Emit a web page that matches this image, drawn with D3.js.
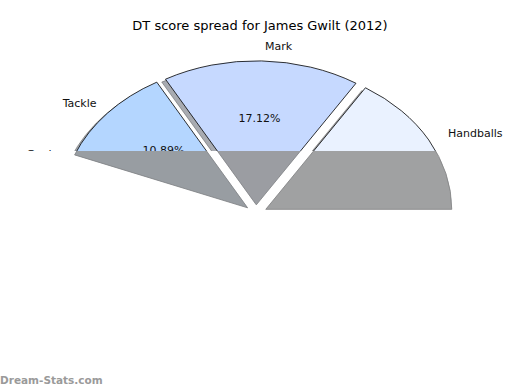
<!DOCTYPE html>
<html lang="en">
<head>
<meta charset="utf-8">
<title>DT score spread</title>
<script src="https://d3js.org/d3.v7.min.js"></script>
<style>
    body { margin: 0; background: #fff; }
    text { font-family: "DejaVu Sans", sans-serif; }
</style>
</head>
<body>
<svg id="chart" width="520" height="390"></svg>
<script>
// score shares, counterclockwise from 3 o'clock
const categories = ["Handballs", "Mark", "Tackle", "Goals", "Kick", "Free For"];
const shares = [16.0, 17.12, 10.89, 0.4, 45.2, 10.39];
const colours = ["#eaf2ff", "#c6d9ff", "#b4d6ff", "#a9caf7", "#92b6ec", "#d6e5ff"];
const title = "DT score spread for James Gwilt (2012)";

const svg = d3.select("#chart");
const cx = 256, cy = 213.5;     // pie centre
const rx = 186, ry = 144;       // axes are not square, so the pie is an ellipse
const explode = 0.06;
const cutY = 151;               // everything below this line is greyed out

const pie = d3.pie().sort(null).startAngle(Math.PI / 2).endAngle(Math.PI / 2 - 2 * Math.PI);
const arcs = pie(shares);
const arc = d3.arc().innerRadius(0).outerRadius(rx);

arcs.forEach((d, i) => {
    d.mid = (d.startAngle + d.endAngle) / 2;
    d.ox = cx + explode * rx * Math.sin(d.mid);
    d.oy = cy - explode * ry * Math.cos(d.mid);
    d.name = categories[i];
    d.colour = colours[i];
    // highest point of the wedge, to know if it reaches above the cut
    let top = d.oy;
    const a0 = Math.min(d.startAngle, d.endAngle), a1 = Math.max(d.startAngle, d.endAngle);
    if (a0 <= 0 && a1 >= 0) top = d.oy - ry;
    else top = Math.min(top, d.oy - ry * Math.cos(d.startAngle), d.oy - ry * Math.cos(d.endAngle));
    d.top = top;
});

const defs = svg.append("defs");
defs.append("clipPath").attr("id", "upper")
    .append("rect").attr("x", 0).attr("y", 0).attr("width", 520).attr("height", cutY);
defs.append("clipPath").attr("id", "lower")
    .append("rect").attr("x", 0).attr("y", cutY).attr("width", 520).attr("height", 390 - cutY);

const wedgeTransform = (d, dx = 0, dy = 0) =>
    `translate(${d.ox + dx},${d.oy + dy}) scale(1,${ry / rx})`;

// upper part: shadows, coloured wedges, texts
const upper = svg.append("g").attr("clip-path", "url(#upper)");

upper.append("g").selectAll("path")
    .data(arcs)
    .join("path")
    .attr("transform", d => wedgeTransform(d, -0.02 * rx, 0.02 * ry))
    .attr("d", arc)
    .attr("fill", d => d3.color(d.colour).darker(3.2))
    .attr("fill-opacity", 0.45)
    .attr("stroke", "#333")
    .attr("stroke-opacity", 0.5)
    .attr("stroke-width", 0.8)
    .attr("vector-effect", "non-scaling-stroke");

upper.append("g").selectAll("path")
    .data(arcs)
    .join("path")
    .attr("transform", d => wedgeTransform(d))
    .attr("d", arc)
    .attr("fill", d => d.colour)
    .attr("stroke", "#000")
    .attr("stroke-width", 0.8)
    .attr("vector-effect", "non-scaling-stroke");

upper.append("g").selectAll("text")
    .data(arcs)
    .join("text")
    .attr("x", d => d.ox + 1.1 * rx * Math.sin(d.mid) + 3)
    .attr("y", d => d.oy - 1.1 * ry * Math.cos(d.mid))
    .attr("text-anchor", d => Math.sin(d.mid) > 0 ? "start" : "end")
    .attr("dominant-baseline", "central")
    .attr("font-size", 11)
    .attr("fill", "#111")
    .text(d => d.name);

upper.append("g").selectAll("text")
    .data(arcs)
    .join("text")
    .attr("x", d => d.ox + 0.6 * rx * Math.sin(d.mid))
    .attr("y", d => d.oy - 0.6 * ry * Math.cos(d.mid))
    .attr("text-anchor", "middle")
    .attr("dominant-baseline", "central")
    .attr("font-size", 11)
    .attr("fill", "#111")
    .text(d => d.data.toFixed(2) + "%");

// lower part: wedges that cross the cut are shown greyed
const lower = svg.append("g").attr("clip-path", "url(#lower)");
const crossing = arcs.filter(d => d.top < cutY);

lower.append("g").selectAll("path")
    .data(crossing)
    .join("path")
    .attr("transform", d => wedgeTransform(d))
    .attr("d", arc)
    .attr("fill", d => d.colour);

lower.append("g").selectAll("path")
    .data(crossing)
    .join("path")
    .attr("transform", d => wedgeTransform(d))
    .attr("d", arc)
    .attr("fill", "#949494")
    .attr("fill-opacity", 0.87)
    .attr("stroke", "#808080")
    .attr("stroke-width", 0.8)
    .attr("vector-effect", "non-scaling-stroke");

svg.append("text")
    .attr("x", 260)
    .attr("y", 30)
    .attr("text-anchor", "middle")
    .attr("font-size", 13)
    .attr("fill", "#000")
    .text(title);

svg.append("text")
    .attr("x", 0)
    .attr("y", 384)
    .attr("font-family", "'Open Sans', sans-serif")
    .attr("font-weight", 600)
    .attr("font-size", 10.5)
    .attr("fill", "#9a9a9a")
    .text("Dream-Stats.com");
</script>
</body>
</html>
